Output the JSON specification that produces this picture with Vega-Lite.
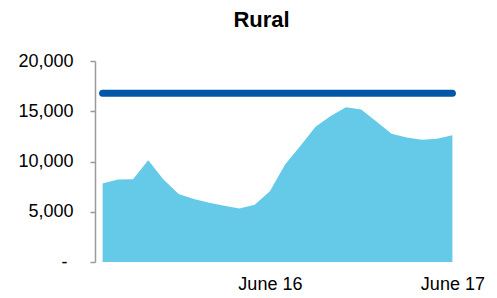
{
  "$schema": "https://vega.github.io/schema/vega-lite/v6.json",
  "autosize": {"type": "none"},
  "padding": {"left": 95, "top": 61, "right": 37, "bottom": 36},
  "width": 365,
  "height": 201,
  "background": "white",
  "config": {
    "font": "Liberation Sans",
    "view": {"stroke": null}
  },
  "title": {
    "text": "Rural",
    "font": "Liberation Sans",
    "fontSize": 22,
    "fontWeight": "bold",
    "color": "#000000",
    "anchor": "middle",
    "dx": -16,
    "baseline": "alphabetic",
    "offset": 3
  },
  "data": {
    "values": [
      {"month": "2015-07", "value": 7800, "benchmark": 16800},
      {"month": "2015-08", "value": 8200, "benchmark": 16800},
      {"month": "2015-09", "value": 8230, "benchmark": 16800},
      {"month": "2015-10", "value": 10130, "benchmark": 16800},
      {"month": "2015-11", "value": 8200, "benchmark": 16800},
      {"month": "2015-12", "value": 6770, "benchmark": 16800},
      {"month": "2016-01", "value": 6270, "benchmark": 16800},
      {"month": "2016-02", "value": 5900, "benchmark": 16800},
      {"month": "2016-03", "value": 5600, "benchmark": 16800},
      {"month": "2016-04", "value": 5330, "benchmark": 16800},
      {"month": "2016-05", "value": 5700, "benchmark": 16800},
      {"month": "2016-06", "value": 7030, "benchmark": 16800},
      {"month": "2016-07", "value": 9700, "benchmark": 16800},
      {"month": "2016-08", "value": 11530, "benchmark": 16800},
      {"month": "2016-09", "value": 13470, "benchmark": 16800},
      {"month": "2016-10", "value": 14530, "benchmark": 16800},
      {"month": "2016-11", "value": 15400, "benchmark": 16800},
      {"month": "2016-12", "value": 15170, "benchmark": 16800},
      {"month": "2017-01", "value": 13970, "benchmark": 16800},
      {"month": "2017-02", "value": 12770, "benchmark": 16800},
      {"month": "2017-03", "value": 12400, "benchmark": 16800},
      {"month": "2017-04", "value": 12170, "benchmark": 16800},
      {"month": "2017-05", "value": 12270, "benchmark": 16800},
      {"month": "2017-06", "value": 12600, "benchmark": 16800}
    ]
  },
  "encoding": {
    "x": {
      "field": "month",
      "type": "ordinal",
      "scale": {"type": "point", "padding": 0.5},
      "axis": {
        "title": null,
        "domain": false,
        "ticks": false,
        "labelAngle": 0,
        "labelOverlap": false,
        "labelFont": "Liberation Sans",
        "labelFontSize": 18,
        "labelFontWeight": "normal",
        "labelColor": "#000000",
        "labelPadding": 13,
        "labelExpr": "datum.value == '2016-06' ? 'June 16' : datum.value == '2017-06' ? 'June 17' : ''"
      }
    }
  },
  "layer": [
    {
      "mark": {"type": "area", "color": "#64CAE7", "opacity": 1},
      "encoding": {
        "y": {
          "field": "value",
          "type": "quantitative",
          "scale": {"domain": [0, 20000], "nice": false},
          "axis": {
            "title": null,
            "values": [0, 5000, 10000, 15000, 20000],
            "grid": false,
            "domainColor": "#9a9a9a",
            "domainWidth": 1.5,
            "tickColor": "#9a9a9a",
            "tickWidth": 1.5,
            "tickSize": 5,
            "labelFont": "Liberation Sans",
            "labelFontSize": 18,
            "labelFontWeight": "normal",
            "labelColor": "#000000",
            "labelPadding": {"condition": {"test": "datum.value == 0", "value": 23}, "value": 17},
            "labelExpr": "datum.value == 0 ? '-' : format(datum.value, ',')"
          }
        }
      }
    },
    {
      "mark": {"type": "line", "color": "#0057A8", "strokeWidth": 7, "strokeCap": "round"},
      "encoding": {
        "y": {"field": "benchmark", "type": "quantitative"}
      }
    }
  ]
}
